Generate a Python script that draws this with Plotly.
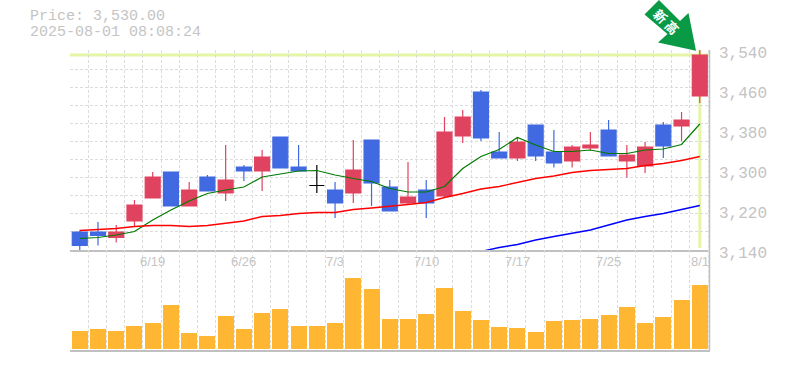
import plotly.graph_objects as go

W, H = 785, 370
index = list(range(35))
opens = [3176,3176,3165,3198,3244,3296,3228,3286,3254,3306,3298,3366,3306,3269,3260,3254,3360,3266,3234,3260,3248,3368,3456,3336,3324,3390,3336,3318,3344,3380,3318,3308,3390,3388,3448]
highs = [3179,3196,3190,3240,3296,3296,3276,3290,3350,3310,3340,3366,3350,3310,3276,3360,3360,3280,3316,3280,3406,3420,3460,3376,3366,3390,3380,3350,3376,3400,3350,3356,3396,3416,3540]
lows = [3139,3149,3155,3188,3244,3228,3228,3258,3238,3278,3258,3304,3298,3254,3204,3234,3228,3218,3230,3204,3244,3354,3358,3324,3318,3318,3305,3305,3340,3328,3285,3294,3324,3358,3434]
closes = [3149,3169,3176,3230,3286,3228,3260,3258,3280,3298,3326,3304,3298,3269,3234,3300,3274,3218,3246,3234,3376,3406,3364,3324,3356,3328,3314,3346,3350,3328,3330,3346,3348,3400,3530]
ma_short = [3163,3165,3170,3177,3200,3220,3238,3253,3260,3266,3286,3292,3298,3299,3290,3283,3277,3263,3256,3256,3267,3303,3327,3341,3365,3350,3337,3337,3340,3333,3333,3340,3342,3351,3392]
ma_mid = [3179,3181,3183,3187,3189,3189,3187,3189,3193,3198,3207,3209,3213,3215,3215,3221,3224,3227,3231,3235,3245,3253,3262,3267,3275,3283,3288,3295,3299,3301,3303,3309,3313,3319,3327]
ma_long = [None]*22 + [3137,3145,3151,3160,3167,3173,3180,3190,3200,3207,3213,3221,3229]
volumes = [18,20,18,23,26,44,16,13,33,20,36,40,23,23,26,71,60,30,30,35,61,38,29,22,21,17,28,29,30,34,42,26,32,49,64]
date_idx = [4,9,14,19,24,29,34]
date_labels = ["6/19","6/26","7/3","7/10","7/17","7/25","8/1"]
price_ticks = [3540,3460,3380,3300,3220,3140]
price_labels = ["3,540","3,460","3,380","3,300","3,220","3,140"]
last_price = 3530

RED, BLUE, BLACK = "#e0435f", "#4169e1", "#000000"
GRID, TXT = "#dcdcdc", "#c4c4c4"
MONO = "Liberation Mono"
DASH = "3px,2px"

fig = go.Figure()
groups = [
    (RED, [i for i in index if closes[i] > opens[i]]),
    (BLUE, [i for i in index if closes[i] < opens[i]]),
    (BLACK, [i for i in index if closes[i] == opens[i]]),
]
for color, idx in groups:
    fig.add_trace(go.Candlestick(
        x=idx, open=[opens[i] for i in idx], high=[highs[i] for i in idx],
        low=[lows[i] for i in idx], close=[closes[i] for i in idx],
        increasing=dict(line=dict(color=color, width=1.2), fillcolor=color),
        decreasing=dict(line=dict(color=color, width=1.2), fillcolor=color),
        whiskerwidth=0, showlegend=False, hoverinfo="skip", xaxis="x", yaxis="y"))
for vals, color, w in [(ma_short, "#007a00", 1.2), (ma_mid, "#ff0000", 1.4), (ma_long, "#0000ff", 1.4)]:
    fig.add_trace(go.Scatter(x=index, y=vals, mode="lines", line=dict(color=color, width=w),
                             showlegend=False, hoverinfo="skip", xaxis="x", yaxis="y"))
fig.add_trace(go.Bar(x=index, y=volumes, marker=dict(color="#ffb733", line=dict(width=0)),
                     width=0.88, showlegend=False, hoverinfo="skip", xaxis="x2", yaxis="y2"))

x_range = [-0.535, 34.56]
x_grid = [i - 0.54 for i in range(36)]
y_grid = [3140 + 36.2 * k for k in range(1, 12)]

common_x = dict(range=x_range, domain=[70/W, 710/W], tickmode="array", tickvals=x_grid,
                showticklabels=False, ticks="", showgrid=True, gridcolor=GRID, griddash=DASH,
                gridwidth=1, zeroline=False, rangeslider=dict(visible=False))
fig.update_layout(
    width=W, height=H, margin=dict(l=0, r=0, t=0, b=0), autosize=False,
    paper_bgcolor="white", plot_bgcolor="white", bargap=0, boxgap=0.18, boxgroupgap=0,
    xaxis=dict(anchor="y", showline=True, linecolor="#c0c0c0", linewidth=2, **common_x),
    xaxis2=dict(anchor="y2", showline=True, linecolor="#c0c0c0", linewidth=2, **common_x),
    yaxis=dict(domain=[120/H, 320/H], range=[3140, 3540], tickmode="array", tickvals=y_grid,
               showticklabels=False, ticks="", showgrid=True, gridcolor=GRID, griddash=DASH,
               zeroline=False),
    yaxis2=dict(domain=[20/H, 120/H], range=[-1.5, 98.5], showticklabels=False, ticks="",
                showgrid=False, zeroline=False),
    shapes=[
        dict(type="line", xref="paper", x0=70/W, x1=710/W, yref="y", y0=last_price, y1=last_price,
             line=dict(color="#e4f5a5", width=3), layer="below"),
        dict(type="line", xref="x", x0=34, x1=34, yref="y", y0=3144, y1=3540,
             line=dict(color="#e4f5a5", width=3), layer="below"),
        dict(type="line", xref="paper", x0=709.5/W, x1=709.5/W, yref="paper", y0=20/H, y1=320/H,
             line=dict(color="#c0c0c0", width=1.5), layer="below"),
        dict(type="path", xref="paper", yref="paper", fillcolor="#0a9a46", line=dict(width=0),
             path="M %f %f L %f %f L %f %f L %f %f L %f %f L %f %f L %f %f Z" % tuple(
                 v for px, py in [(696,50.7),(658,42.5),(667.5,34),(644.5,14.5),(659,0),(680,21),(688.5,13)]
                 for v in (px/W, 1-py/H))),
    ],
)
ann = [
    dict(x=28.5/W, y=1-17/H, xref="paper", yref="paper", xanchor="left", yanchor="middle", showarrow=False,
         borderpad=0, text="Price: 3,530.00", font=dict(family=MONO, size=15, color=TXT)),
    dict(x=28.5/W, y=1-33/H, xref="paper", yref="paper", xanchor="left", yanchor="middle", showarrow=False,
         borderpad=0, text="2025-08-01 08:08:24", font=dict(family=MONO, size=15, color=TXT)),
    dict(x=666.5/W, y=1-21.5/H, xref="paper", yref="paper", xanchor="center", yanchor="middle", showarrow=False,
         text="<b>新 高</b>", textangle=45, font=dict(family="Noto Sans CJK JP", size=13, color="white")),
]
for v, t in zip(price_ticks, price_labels):
    ann.append(dict(x=717/W, xref="paper", y=v, yref="y", yshift=-4, xanchor="left", yanchor="middle",
                    showarrow=False, text=t, font=dict(family=MONO, size=16, color=TXT)))
for i, t in zip(date_idx, date_labels):
    ann.append(dict(x=i, xref="x2", y=1-261.5/H, yref="paper", xanchor="center", yanchor="middle",
                    showarrow=False, text=t, font=dict(family="Liberation Sans", size=13, color=TXT)))
fig.update_layout(annotations=ann)
fig.write_html("out.html", config=dict(displayModeBar=False), post_script="document.body.style.margin='0';")
